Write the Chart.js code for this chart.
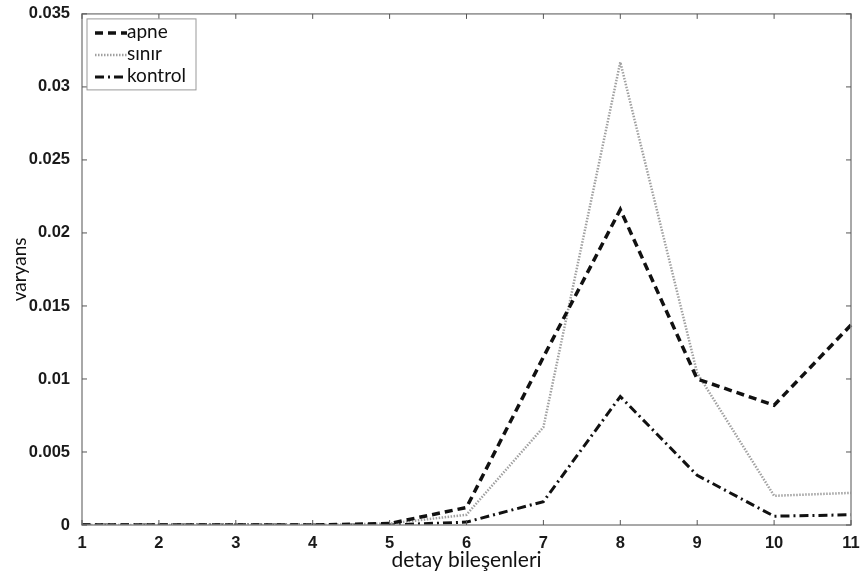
<!DOCTYPE html>
<html>
<head>
<meta charset="utf-8">
<script src="https://cdn.jsdelivr.net/npm/chart.js@4.4.1/dist/chart.umd.min.js"></script>
<style>
  html, body { margin: 0; padding: 0; background: #fff; }
  #wrap { width: 861px; height: 574px; }
</style>
</head>
<body>
<div id="wrap"><canvas id="chart" width="861" height="574"></canvas></div>
<script>
// detay bileşenleri 1..11
const components = ['1', '2', '3', '4', '5', '6', '7', '8', '9', '10', '11'];
const apneValues    = [0, 0, 0, 0, 0.0001, 0.0012, 0.0115, 0.0216, 0.0100, 0.0082, 0.0137];
const sinirValues   = [0, 0, 0, 0, 0.0001, 0.0007, 0.0067, 0.0317, 0.0104, 0.0020, 0.0022];
const kontrolValues = [0, 0, 0, 0, 0.0000, 0.0002, 0.0016, 0.0088, 0.0034, 0.0006, 0.0007];
const yTicks = [0, 0.005, 0.01, 0.015, 0.02, 0.025, 0.03, 0.035];

const ctx = document.getElementById('chart').getContext('2d');

// MATLAB-like frame with inward ticks + boxed legend
const framePlugin = {
    id: 'frame',
    afterDatasetsDraw(chart) {
        const { ctx, chartArea: a, scales } = chart;
        ctx.save();
        ctx.strokeStyle = '#8c8c8c';
        ctx.lineWidth = 1.5;
        ctx.setLineDash([]);
        ctx.strokeRect(a.left, a.top, a.right - a.left, a.bottom - a.top);
        ctx.lineWidth = 1;
        ctx.strokeStyle = '#555';
        const tl = 5;
        components.forEach((c, i) => {
            const x = scales.x.getPixelForValue(i);
            ctx.beginPath();
            ctx.moveTo(x, a.bottom); ctx.lineTo(x, a.bottom - tl);
            ctx.moveTo(x, a.top); ctx.lineTo(x, a.top + tl);
            ctx.stroke();
        });
        yTicks.forEach(v => {
            const y = scales.y.getPixelForValue(v);
            ctx.beginPath();
            ctx.moveTo(a.left, y); ctx.lineTo(a.left + tl, y);
            ctx.moveTo(a.right, y); ctx.lineTo(a.right - tl, y);
            ctx.stroke();
        });

        // legend
        const lx = a.left + 5, ly = a.top + 5, lw = 109, lh = 71;
        ctx.fillStyle = '#fff';
        ctx.fillRect(lx, ly, lw, lh);
        ctx.strokeStyle = '#999';
        ctx.lineWidth = 1;
        ctx.strokeRect(lx, ly, lw, lh);
        ctx.font = '19px Lato, "Open Sans", sans-serif';
        ctx.textBaseline = 'middle';
        chart.data.datasets.forEach((ds, i) => {
            const yy = ly + 13 + i * 22;
            ctx.strokeStyle = ds.borderColor;
            ctx.lineWidth = ds.borderWidth;
            ctx.setLineDash(ds.borderDash);
            ctx.beginPath();
            ctx.moveTo(lx + 8, yy + 1);
            ctx.lineTo(lx + 40, yy + 1);
            ctx.stroke();
            ctx.setLineDash([]);
            ctx.fillStyle = '#111';
            ctx.fillText(ds.label, lx + 40, yy);
        });
        ctx.restore();
    }
};

new Chart(ctx, {
    type: 'line',
    data: {
        labels: components,
        datasets: [
            {
                label: 'apne',
                data: apneValues,
                borderColor: '#111',
                borderWidth: 3.5,
                borderDash: [8, 5],
                pointRadius: 0,
                tension: 0,
            },
            {
                label: 'sınır',
                data: sinirValues,
                borderColor: '#a0a0a0',
                borderWidth: 2.5,
                borderDash: [1.5, 1.5],
                pointRadius: 0,
                tension: 0,
            },
            {
                label: 'kontrol',
                data: kontrolValues,
                borderColor: '#111',
                borderWidth: 3,
                borderDash: [9, 4, 2, 4],
                pointRadius: 0,
                tension: 0,
            }
        ]
    },
    options: {
        responsive: false,
        animation: false,
        layout: { padding: { top: 11, right: 10, left: 0, bottom: 0 } },
        plugins: {
            legend: { display: false },
            tooltip: { enabled: false }
        },
        scales: {
            x: {
                type: 'category',
                offset: false,
                grid: { display: false },
                border: { display: false },
                ticks: {
                    color: '#1a1a1a',
                    padding: 1,
                    maxRotation: 0,
                    autoSkip: false,
                    font: { family: 'Liberation Sans, Arial, sans-serif', size: 16.5, weight: 'bold' }
                },
                title: {
                    display: true,
                    text: 'detay bileşenleri',
                    color: '#111',
                    padding: { top: 0, bottom: 2 },
                    font: { family: 'Lato, "Open Sans", sans-serif', size: 21, lineHeight: 1.1 }
                },
                afterFit(scale) { scale.height = 49; }
            },
            y: {
                min: 0,
                max: 0.035,
                grid: { display: false },
                border: { display: false },
                afterBuildTicks(scale) { scale.ticks = yTicks.map(v => ({ value: v })); },
                ticks: {
                    color: '#1a1a1a',
                    padding: 4,
                    callback: v => String(+v.toFixed(3)),
                    font: { family: 'Liberation Sans, Arial, sans-serif', size: 16.5, weight: 'bold' }
                },
                title: {
                    display: true,
                    text: 'varyans',
                    color: '#111',
                    padding: { top: 8, bottom: 0 },
                    font: { family: 'Lato, "Open Sans", sans-serif', size: 19 }
                },
                afterFit(scale) { scale.width = 82; }
            }
        }
    },
    plugins: [framePlugin]
});
</script>
</body>
</html>
